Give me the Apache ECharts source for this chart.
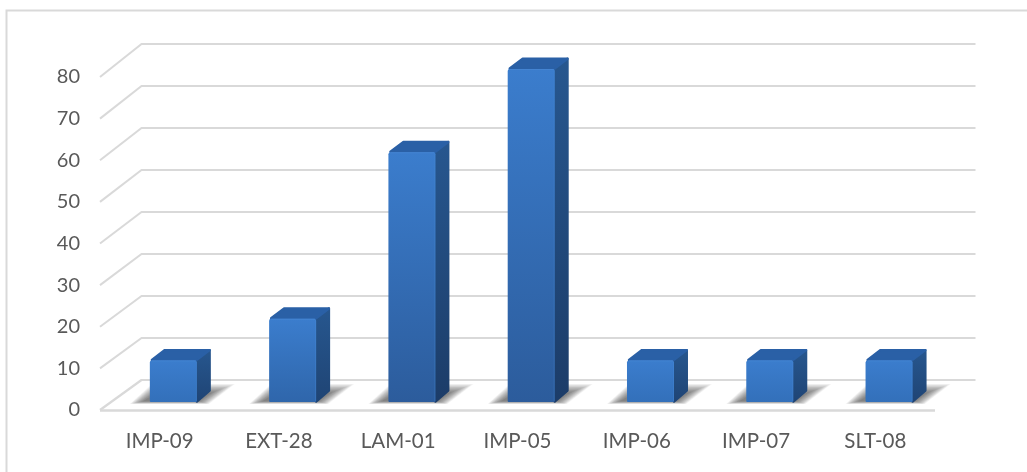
<!DOCTYPE html>
<html><head><meta charset="utf-8">
<style>html,body{margin:0;padding:0;background:#fff}#c{width:1027px;height:472px}</style>
<script src="https://cdn.jsdelivr.net/npm/echarts@6/dist/echarts.min.js"></script>
</head><body><div id="c"></div>
<script>
const categories = ['IMP-09','EXT-28','LAM-01','IMP-05','IMP-06','IMP-07','SLT-08'];
const values = [10,20,60,80,10,10,10];
const yTicks = [0,10,20,30,40,50,60,70,80];

const chart = echarts.init(document.getElementById('c'), null, {renderer:'canvas'});
const G = echarts.graphic;
const LG = (x0,y0,x1,y1,c0,c1)=>new G.LinearGradient(x0,y0,x1,y1,[{offset:0,color:c0},{offset:1,color:c1}]);

const W_DX = 41, HALF = 23.5, BAR_DX = 13.7, BAR_DY = -8, D_X = 14, D_Y = 11.5;
const LINE = '#d9d9d9';
const SHADOW_LAYERS = 16;

function wallItem(params, api){
  const v = api.value(0);
  const y = api.coord([0, v])[1];
  const cx0 = api.coord([0, v])[0];
  const band = api.size([1,0])[0];
  const left = cx0 - band/2;
  const right = left + band*categories.length;
  const dy = 30 + 3*v/80;
  const children = [
    {type:'polyline', shape:{points:[[left,y],[left+W_DX+0.5,y-dy],[right+W_DX-0.5,y-dy]]},
     style:{stroke:LINE, lineWidth:v===0?2.2:2, fill:null, lineJoin:'round'}}
  ];
  if(v===0){
    children.push({type:'line', shape:{x1:left,y1:y+0.5,x2:right,y2:y+0.5}, style:{stroke:LINE, lineWidth:2.4}});
  }
  return {type:'group', children};
}
function shadowItem(params, api){
  const p = api.coord([api.value(0), 0]);
  const fl = p[0]+BAR_DX-HALF, fr = p[0]+BAR_DX+HALF, fb = p[1]+BAR_DY;
  const outer = [[fl-20,fb+2],[fl+2,fb-18],[fr+38,fb-18],[fr+12,fb+2]];
  const inner = [[fl-6,fb-1],[fl+6,fb-8],[fr+14,fb-9],[fr+2,fb-1]];
  const children = [];
  for(let k=0;k<SHADOW_LAYERS;k++){
    const t = k/(SHADOW_LAYERS-1);
    children.push({type:'polygon',
      shape:{points:outer.map((o,j)=>[o[0]+(inner[j][0]-o[0])*t, o[1]+(inner[j][1]-o[1])*t])},
      style:{fill:'rgba(60,60,60,0.055)'}});
  }
  return {type:'group', children};
}
function barItem(params, api){
  const i = api.value(0);
  const p0 = api.coord([i, 0]);
  const p1 = api.coord([i, api.value(1)]);
  const fl = p0[0]+BAR_DX-HALF, fr = p0[0]+BAR_DX+HALF;
  const fb = p0[1]+BAR_DY, ft = p1[1]+BAR_DY;
  const h = fb-ft;
  const tall = Math.min(1, h/330);
  const front0 = '#3b7dcd', front1 = tall>0.5 ? '#2c5c9c' : (tall>0.2?'#2f66ab':'#3370ba');
  const side0 = '#27578f', side1 = tall>0.5 ? '#1c3c68' : '#1f4474';
  const r = 1.2;
  return {type:'group', children:[
    {type:'polygon', shape:{points:[[fr,fb-0.5],[fr+D_X-r,fb-D_Y],[fr+D_X-r,ft-D_Y+r],[fr,ft]]},
     style:{fill:LG(0,0,0,1,side0,side1), stroke:LG(0,0,0,1,side0,side1), lineWidth:r*2, lineJoin:'round'}},
    {type:'polygon', shape:{points:[[fl+2,ft-0.5],[fl+D_X+1,ft-D_Y+r],[fr+D_X-r,ft-D_Y+r],[fr,ft-0.5]]},
     style:{fill:'#2a60a6', stroke:'#2a60a6', lineWidth:r*2, lineJoin:'round'}},
    {type:'rect', shape:{x:fl,y:ft,width:fr-fl,height:h,r:[2,2,1,1]},
     style:{fill:LG(0,0,0,1,front0,front1)}},
    {type:'line', shape:{x1:fl+2,y1:ft+0.5,x2:fr-1,y2:ft+0.5}, style:{stroke:'#4484d2', lineWidth:1}},
    {type:'line', shape:{x1:fr-0.5,y1:ft+1,x2:fr-0.5,y2:fb-1}, style:{stroke:'rgba(74,139,214,0.35)', lineWidth:1}}
  ]};
}
chart.setOption({
  animation:false,
  backgroundColor:'#fff',
  graphic:[{type:'polyline', silent:true, z:0,
    shape:{points:[[6.5,472],[6.5,10.5],[1027,10.5]]},
    style:{stroke:'#d9d9d9', lineWidth:2, fill:null}}],
  grid:{left:100, top:77, width:835, height:333, containLabel:false},
  xAxis:{type:'category', data:categories,
    axisLine:{show:false}, axisTick:{show:false},
    axisLabel:{color:'#595959', fontFamily:'Lato', fontSize:20.5, margin:21}},
  yAxis:{type:'value', min:0, max:80, interval:10,
    axisLine:{show:false}, axisTick:{show:false}, splitLine:{show:false},
    axisLabel:{color:'#595959', fontFamily:'Lato', fontSize:20, margin:20}},
  series:[
    {type:'custom', name:'walls', z:1, silent:true, clip:false,
     encode:{x:1,y:0}, data:yTicks.map(v=>[v,0]), renderItem:wallItem},
    {type:'custom', name:'shadows', z:2, silent:true, clip:false,
     encode:{x:0,y:1}, data:values.map((v,i)=>[i,v]), renderItem:shadowItem},
    {type:'custom', name:'bars', z:3, clip:false,
     encode:{x:0,y:1}, data:values.map((v,i)=>[i,v]), renderItem:barItem}
  ]
});
</script></body></html>
